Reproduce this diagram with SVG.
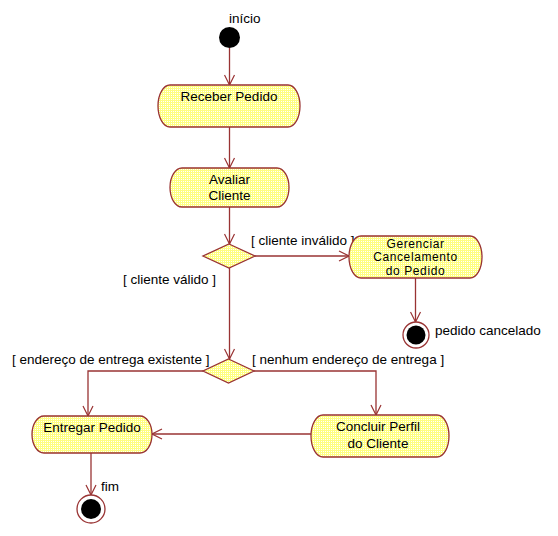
<svg xmlns="http://www.w3.org/2000/svg" width="558" height="536" viewBox="0 0 558 536">
<defs>
<pattern id="dith" width="2" height="2" patternUnits="userSpaceOnUse">
<rect width="2" height="2" fill="#ffff80"/>
<rect x="1" y="1" width="1" height="1" fill="#ffffff"/>
</pattern>
<marker id="arr" markerWidth="12" markerHeight="12" viewBox="0 0 12 12" refX="11" refY="6" orient="auto" markerUnits="userSpaceOnUse">
<path d="M1,1 L11,6 L1,11" fill="none" stroke="#993333" stroke-width="1.2"/>
</marker>
</defs>
<style>
.act{fill:url(#dith);stroke:#993333;stroke-width:1.3}
.dec{fill:url(#dith);stroke:#993333;stroke-width:1.3}
.con{fill:none;stroke:#993333;stroke-width:1.3;marker-end:url(#arr)}
text{font-family:"Liberation Sans",Arial,sans-serif;font-size:13.5px;fill:#000}
.c{text-anchor:middle}
.s{font-size:12px;letter-spacing:0.6px}
</style>
<rect width="558" height="536" fill="#ffffff"/>
<g id="connectors">
<path class="con" d="M229.5,48 L229.5,85"/>
<path class="con" d="M229.5,127 L229.5,168"/>
<path class="con" d="M229.5,207 L229.5,244"/>
<path class="con" d="M255,256 L349,256"/>
<path class="con" d="M229.5,268 L229.5,359"/>
<path class="con" d="M415.5,278 L415.5,322"/>
<path class="con" d="M203,371 L88,371 L88,416"/>
<path class="con" d="M254,371 L376,371 L376,415"/>
<path class="con" d="M311,434 L152,434"/>
<path class="con" d="M91,453 L91,495"/>
</g>
<g id="inicio">
<circle cx="229.5" cy="37.5" r="10.5" fill="#000"/>
<text x="229" y="23">início</text>
</g>
<g id="receber">
<rect class="act" x="158" y="85" width="142" height="42" rx="12" ry="21"/>
<text class="c" x="229" y="101">Receber Pedido</text>
</g>
<g id="avaliar">
<rect class="act" x="170" y="168" width="119" height="39" rx="12" ry="19.5"/>
<text class="c" x="229.5" y="184">Avaliar</text>
<text class="c" x="229.5" y="200">Cliente</text>
</g>
<g id="decisao1">
<polygon class="dec" points="229,244 255,256 229,268 203,256"/>
<text x="251" y="245">[ cliente inválido ]</text>
<text x="123" y="284">[ cliente válido ]</text>
</g>
<g id="gerenciar">
<rect class="act" x="349" y="236" width="133" height="42" rx="12" ry="21"/>
<text class="c s" x="415.5" y="247.5">Gerenciar</text>
<text class="c s" x="415.5" y="261">Cancelamento</text>
<text class="c s" x="415.5" y="274.5">do Pedido</text>
</g>
<g id="cancelado">
<circle cx="416" cy="335" r="13" fill="#fff" stroke="#993333" stroke-width="1.3"/>
<circle cx="416" cy="335" r="9.5" fill="#000"/>
<text x="435" y="335">pedido cancelado</text>
</g>
<g id="decisao2">
<polygon class="dec" points="228.5,359 254,371 228.5,383 203,371"/>
<text x="12" y="364">[ endereço de entrega existente ]</text>
<text x="252" y="364">[ nenhum endereço de entrega ]</text>
</g>
<g id="entregar">
<rect class="act" x="32" y="416" width="120" height="37" rx="12" ry="18.5"/>
<text class="c" x="92" y="432">Entregar Pedido</text>
</g>
<g id="concluir">
<rect class="act" x="311" y="415" width="138" height="42" rx="12" ry="21"/>
<text class="c" x="378" y="431">Concluir Perfil</text>
<text class="c" x="378" y="448">do Cliente</text>
</g>
<g id="fim">
<circle cx="91" cy="509" r="14" fill="#fff" stroke="#993333" stroke-width="1.3"/>
<circle cx="91" cy="509" r="10" fill="#000"/>
<text x="101" y="491">fim</text>
</g>
</svg>
